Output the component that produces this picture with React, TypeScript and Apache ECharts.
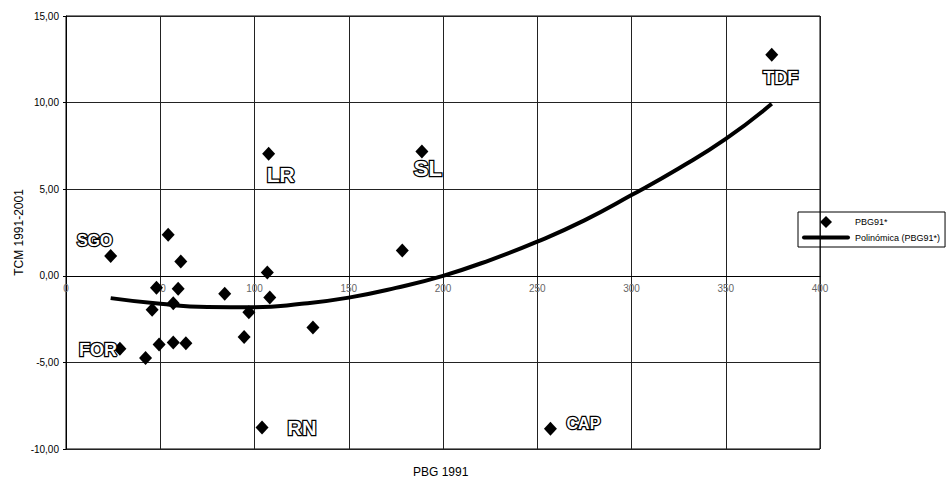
import React, { useEffect, useRef } from "react";
import * as echarts from "echarts";

// Scatter data: PBG 1991 (x) vs TCM 1991-2001 (y)
const pbgX = [23.7, 28.6, 42.2, 45.7, 48.0, 49.4, 54.2, 56.9, 56.9, 59.5, 60.9, 63.6, 84.2, 94.5, 97.0, 104.0, 106.8, 107.5, 108.1, 131.0, 178.4, 188.8, 257.0, 374.4];
const tcmY = [1.15, -4.21, -4.75, -1.96, -0.69, -3.96, 2.37, -1.58, -3.85, -0.75, 0.83, -3.89, -1.04, -3.54, -2.10, -8.76, 0.19, 7.04, -1.25, -2.98, 1.46, 7.18, -8.83, 12.76];
const pointNames = ["SGO", "FOR", "", "", "", "", "", "", "", "", "", "", "", "", "", "RN", "", "LR", "", "", "", "SL", "CAP", "TDF"];

// Polynomial trend line
const trendX = [23.7, 50, 75, 100, 125, 150, 175, 200, 225, 250, 275, 300, 325, 350, 374.4];
const trendY = [-1.29, -1.62, -1.8, -1.82, -1.62, -1.26, -0.7, 0.0, 0.91, 1.97, 3.2, 4.66, 6.2, 7.9, 9.93];

const xMin = 0, xMax = 400, xStep = 50;
const yMin = -10, yMax = 15, yStep = 5;

const seriesScatterName = "PBG91*";
const seriesTrendName = "Polinómica (PBG91*)";
const xTitle = "PBG 1991";
const yTitle = "TCM 1991-2001";

// label styling (offsets/sizes) per named point
const labelStyle: Record<string, { offset: number[]; size: number }> = {
  SGO: { offset: [-16, -15], size: 16 },
  FOR: { offset: [-22, 1], size: 18 },
  LR: { offset: [12, 21], size: 21 },
  SL: { offset: [6, 17], size: 22 },
  TDF: { offset: [9, 23], size: 18 },
  RN: { offset: [40, 0], size: 20 },
  CAP: { offset: [33, -5], size: 16 },
};

const FONT = "Liberation Sans, Arial, sans-serif";
const GRID = { left: 66, top: 16, right: 127, bottom: 29 };
const H = 478;

export default function App() {
  const ref = useRef<HTMLDivElement>(null);
  useEffect(() => {
    if (!ref.current) return;
    const chart = echarts.init(ref.current, null, { renderer: "svg" });
    const scatterData = pbgX.map((x, i) => {
      const n = pointNames[i];
      const item: any = { value: [x, tcmY[i]], name: n };
      if (n && labelStyle[n]) {
        item.label = {
          show: true,
          position: "inside",
          offset: labelStyle[n].offset,
          formatter: n,
          fontSize: labelStyle[n].size,
          fontWeight: "bold",
          fontFamily: FONT,
          color: "#fff",
          textBorderColor: "#000",
          textBorderWidth: 2.5,
        };
      }
      return item;
    });
    const trendData = trendX.map((x, i) => [x, trendY[i]]);
    const gridH = H - GRID.top - GRID.bottom;
    const zeroOffset = -gridH * (0 - yMin) / (yMax - yMin);
    chart.setOption({
      animation: false,
      backgroundColor: "#fff",
      textStyle: { fontFamily: FONT },
      grid: { ...GRID, show: true, borderColor: "#000", borderWidth: 1, containLabel: false },
      legend: {
        orient: "vertical",
        left: 798,
        top: 212,
        padding: [4, 5, 5, 4],
        itemWidth: 48,
        itemHeight: 12,
        itemGap: 5,
        borderColor: "#000",
        borderWidth: 1,
        textStyle: { fontSize: 9, color: "#000" },
        data: [
          { name: seriesScatterName, icon: "path://M5 0L10 5L5 10L0 5Z" },
          { name: seriesTrendName, icon: "path://M2 0H46A2 2 0 0 1 46 4H2A2 2 0 0 1 2 0Z" },
        ],
      },
      xAxis: {
        type: "value",
        min: xMin,
        max: xMax,
        interval: xStep,
        position: "bottom",
        offset: zeroOffset,
        axisLine: { show: true, onZero: false, lineStyle: { color: "#000", width: 1 } },
        axisTick: { show: false },
        axisLabel: { color: "#666", fontSize: 10, margin: 8 },
        splitLine: { show: true, lineStyle: { color: "#222", width: 1 } },
      },
      yAxis: {
        type: "value",
        min: yMin,
        max: yMax,
        interval: yStep,
        name: yTitle,
        nameLocation: "middle",
        nameGap: 41,
        nameMoveOverlap: false,
        nameTextStyle: { fontSize: 12, color: "#000" },
        axisLine: { show: true, onZero: false, lineStyle: { color: "#000", width: 1 } },
        axisTick: { show: true, length: 3, lineStyle: { color: "#000" } },
        axisLabel: {
          color: "#000",
          fontSize: 10,
          margin: 7,
          formatter: (v: number) => v.toFixed(2).replace(".", ","),
        },
        splitLine: { show: true, lineStyle: { color: "#222", width: 1 } },
      },
      graphic: [
        {
          type: "text",
          left: 413,
          top: 466,
          style: { text: xTitle, fontSize: 12, fill: "#000", fontFamily: FONT },
        },
      ],
      series: [
        {
          name: seriesTrendName,
          type: "line",
          data: trendData,
          smooth: true,
          symbol: "none",
          lineStyle: { color: "#000", width: 4 },
          itemStyle: { color: "#000" },
          z: 2,
        },
        {
          name: seriesScatterName,
          type: "scatter",
          data: scatterData,
          symbol: "diamond",
          symbolSize: [13, 14],
          itemStyle: { color: "#000", opacity: 1 },
          z: 3,
        },
      ],
    });
    return () => chart.dispose();
  }, []);
  return <div ref={ref} style={{ position: "fixed", left: 0, top: 0, width: 947, height: 478 }} />;
}
